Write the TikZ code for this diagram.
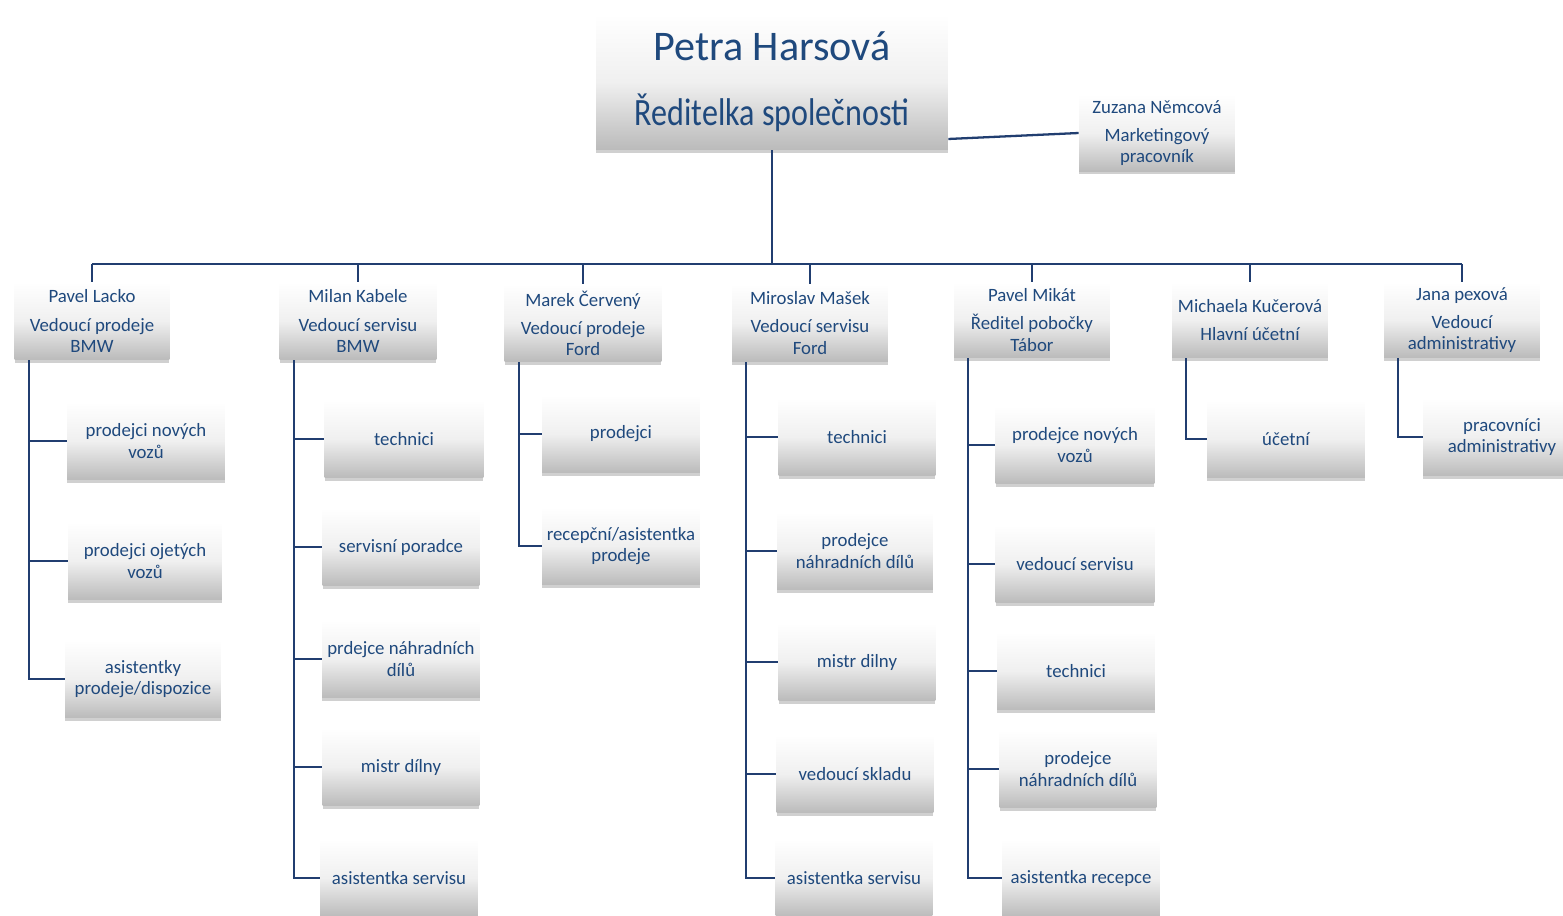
\documentclass[tikz,border=0pt]{standalone}
\usepackage{fontspec}
\setmainfont{Carlito}
\usetikzlibrary{shadows}
\definecolor{textc}{RGB}{31,73,125}
\definecolor{linec}{RGB}{33,62,112}
\begin{document}
\begin{tikzpicture}[x=0.02cm,y=-0.02cm,
  box/.style={shade, top color=white, bottom color=black!27, middle color=black!6,
    drop shadow={shadow xshift=0pt, shadow yshift=-1.5pt, opacity=0.3, fill=black!60},
    text=textc, align=center, font=\fontsize{10.7}{12}\selectfont,
    minimum width=3.14cm, minimum height=1.56cm, inner sep=1pt},
  conn/.style={draw=linec, line width=1.3pt}]
\clip (0,0) rectangle (1563,916);
\fill[white] (0,0) rectangle (1563,916);

% top
\node[box, minimum width=7.04cm, minimum height=2.72cm, font=\fontsize{24}{28}\selectfont] (top) at (772,82) {Petra Harsová\\[9pt]\scalebox{0.83}[1]{\fontsize{22}{26}\selectfont Ředitelka společnosti}};
\node[box, minimum width=3.12cm, minimum height=1.54cm] (zuz) at (1157,133) {Zuzana Němcová\\[4pt]Marketingový\\pracovník};

% level 2
\node[box, minimum width=3.1cm] (p1) at (92,321) {Pavel Lacko\\[4pt]Vedoucí prodeje\\BMW};
\node[box] (p2) at (358,321) {Milan Kabele\\[4pt]Vedoucí servisu\\BMW};
\node[box] (p3) at (583,323) {Marek Červený\\[4pt]Vedoucí prodeje\\Ford};
\node[box, minimum width=3.12cm] (p4) at (810,323) {Miroslav Mašek\\[4pt]Vedoucí servisu\\Ford};
\node[box, minimum width=3.12cm, minimum height=1.52cm] (p5) at (1032,320) {Pavel Mikát\\[4pt]Ředitel pobočky\\Tábor};
\node[box, minimum width=3.12cm, minimum height=1.52cm] (p6) at (1250,320) {Michaela Kučerová\\[4pt]Hlavní účetní};
\node[box, minimum width=3.12cm, minimum height=1.52cm] (p7) at (1462,320) {Jana pexová\\[4pt]Vedoucí\\administrativy};

% children
\node[box, minimum width=3.16cm] (c1a) at (146,441) {prodejci nových\\vozů};
\node[box, minimum width=3.08cm] (c1b) at (145,561) {prodejci ojetých\\vozů};
\node[box, minimum width=3.12cm] (c1c) at (143,679) {asistentky\\prodeje/dispozice};

\node[box, minimum width=3.18cm] (c2a) at (404,439) {technici};
\node[box] (c2b) at (401,547) {servisní poradce};
\node[box, minimum width=3.16cm] (c2c) at (401,659) {prdejce náhradních\\dílů};
\node[box] (c2d) at (401,767) {mistr dílny};
\node[box, minimum width=3.16cm] (c2e) at (399,878) {asistentka servisu};

\node[box, minimum width=3.16cm] (c3a) at (621,434) {prodejci};
\node[box, minimum width=3.16cm] (c3b) at (621,546) {recepční/asistentka\\prodeje};

\node[box] (c4a) at (857,437) {technici};
\node[box, minimum width=3.12cm] (c4b) at (855,551) {prodejce\\náhradních dílů};
\node[box] (c4c) at (857,662) {mistr dilny};
\node[box] (c4d) at (855,774) {vedoucí skladu};
\node[box] (c4e) at (854,878) {asistentka servisu};

\node[box, minimum width=3.18cm] (c5a) at (1075,445) {prodejce nových\\vozů};
\node[box, minimum width=3.18cm] (c5b) at (1075,564) {vedoucí servisu};
\node[box, minimum width=3.16cm] (c5c) at (1076,671) {technici};
\node[box] (c5d) at (1078,769) {prodejce\\náhradních dílů};
\node[box, minimum width=3.16cm] (c5e) at (1081,878) {asistentka recepce};

\node[box, minimum width=3.16cm] (c6a) at (1286,439) {účetní};
\node[box, minimum width=3.16cm] (c7a) at (1502,437) {pracovníci\\administrativy};

% connectors
\coordinate (bus) at (772,264);
\draw[conn] (top.south) -- (bus);
\draw[conn] (p1.north |- bus) -- (p7.north |- bus);
\foreach \p in {p1,p2,p3,p4,p5,p6,p7} {
  \draw[conn] (\p.north) -- (\p.north |- bus);
}
\draw[conn] ([yshift=-1.14cm]top.east) -- (zuz.west);

\foreach \p/\kids in {p1/{c1a,c1b,c1c}, p2/{c2a,c2b,c2c,c2d,c2e}, p3/{c3a,c3b},
                      p4/{c4a,c4b,c4c,c4d,c4e}, p5/{c5a,c5b,c5c,c5d,c5e},
                      p6/{c6a}, p7/{c7a}} {
  \foreach \k in \kids {
    \draw[conn] ([xshift=0.29cm]\p.south west) |- (\k.west);
  }
}
\end{tikzpicture}
\end{document}
